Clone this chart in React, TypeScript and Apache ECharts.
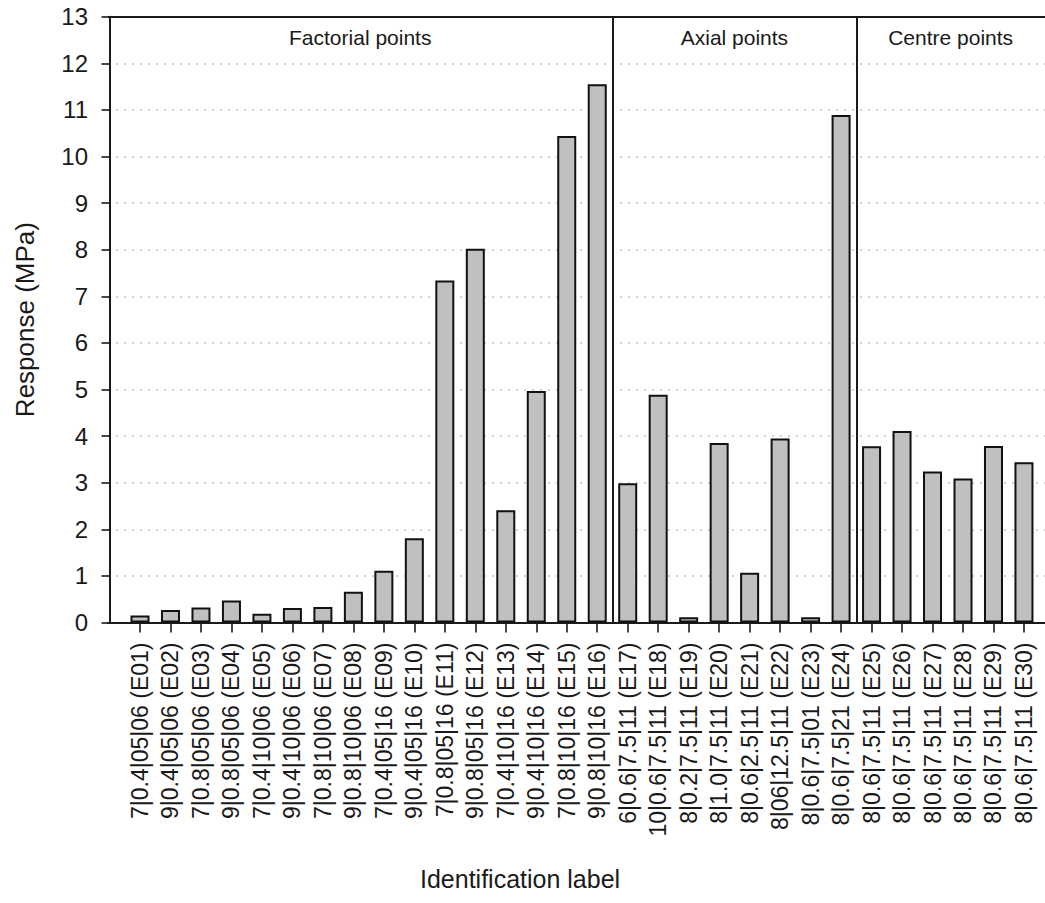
import React, { useEffect, useRef } from "react";
import * as echarts from "echarts";

const labels: string[] = [
  "7|0.4|05|06 (E01)", "9|0.4|05|06 (E02)", "7|0.8|05|06 (E03)", "9|0.8|05|06 (E04)",
  "7|0.4|10|06 (E05)", "9|0.4|10|06 (E06)", "7|0.8|10|06 (E07)", "9|0.8|10|06 (E08)",
  "7|0.4|05|16 (E09)", "9|0.4|05|16 (E10)", "7|0.8|05|16 (E11)", "9|0.8|05|16 (E12)",
  "7|0.4|10|16 (E13)", "9|0.4|10|16 (E14)", "7|0.8|10|16 (E15)", "9|0.8|10|16 (E16)",
  "6|0.6|7.5|11 (E17)", "10|0.6|7.5|11 (E18)", "8|0.2|7.5|11 (E19)", "8|1.0|7.5|11 (E20)",
  "8|0.6|2.5|11 (E21)", "8|06|12.5|11 (E22)", "8|0.6|7.5|01 (E23)", "8|0.6|7.5|21 (E24)",
  "8|0.6|7.5|11 (E25)", "8|0.6|7.5|11 (E26)", "8|0.6|7.5|11 (E27)", "8|0.6|7.5|11 (E28)",
  "8|0.6|7.5|11 (E29)", "8|0.6|7.5|11 (E30)",
];

const responses: number[] = [
  0.15, 0.27, 0.32, 0.47, 0.19, 0.31, 0.33, 0.66, 1.11, 1.81,
  7.34, 8.02, 2.41, 4.97, 10.44, 11.55,
  2.99, 4.89, 0.11, 3.85, 1.07, 3.95, 0.11, 10.89,
  3.78, 4.11, 3.24, 3.09, 3.79, 3.44,
];

const yTicks: number[] = [0, 1, 2, 3, 4, 5, 6, 7, 8, 9, 10, 11, 12, 13];

const sections: { name: string; from: number; to: number }[] = [
  { name: "Factorial points", from: -0.05, to: 16.5 },
  { name: "Axial points", from: 16.5, to: 24.5 },
  { name: "Centre points", from: 24.5, to: 30.69 },
];

const positions: number[] = labels.map((_, i) => i + 1);

const FONT = "'Liberation Sans', Arial, sans-serif";
const INK = "#1a1a1a";

export default function App() {
  const ref = useRef<HTMLDivElement>(null);

  useEffect(() => {
    document.body.style.margin = "0";
    if (!ref.current) return;
    const chart = echarts.init(ref.current, undefined, { renderer: "svg" });
    const option: any = {
      animation: false,
      backgroundColor: "#ffffff",
      textStyle: { fontFamily: FONT, color: INK },
      grid: { left: 108, right: 0, top: 16.7, bottom: 280.5, containLabel: false },
      xAxis: {
        type: "value",
        min: sections[0].from,
        max: sections[2].to,
        axisLine: { show: true, onZero: false, lineStyle: { color: INK, width: 2 } },
        axisTick: {
          show: true,
          customValues: positions,
          length: 10,
          lineStyle: { color: INK, width: 1.6 },
        },
        axisLabel: {
          customValues: positions,
          rotate: 90,
          margin: 20,
          fontSize: 23,
          fontFamily: FONT,
          color: INK,
          formatter: (v: number) => labels[Math.round(v) - 1] ?? "",
        },
        splitLine: { show: false },
      },
      yAxis: {
        type: "value",
        min: 0,
        max: 13,
        interval: 1,
        name: "Response (MPa)",
        nameLocation: "middle",
        nameGap: 70,
        nameTextStyle: { fontSize: 26, fontFamily: FONT, color: INK },
        axisLine: { show: true, lineStyle: { color: INK, width: 2 } },
        axisTick: { show: true, length: 8, lineStyle: { color: INK, width: 1.6 } },
        axisLabel: {
          margin: 20,
          fontSize: 24,
          fontFamily: FONT,
          color: INK,
          formatter: (v: number) => (yTicks.includes(v) ? String(v) : ""),
        },
        splitLine: {
          show: true,
          lineStyle: { color: "#c4c4c4", type: [2, 6], width: 1.5 },
        },
      },
      series: [
        {
          type: "bar",
          data: responses.map((v, i) => [positions[i], v]),
          barWidth: 19,
          itemStyle: { color: "#c0c0c0", borderColor: "#111111", borderWidth: 2 },
          markLine: {
            silent: true,
            symbol: "none",
            label: { show: false },
            lineStyle: { color: INK, width: 2, type: "solid" },
            data: [
              { yAxis: 13 },
              { xAxis: sections[1].from },
              { xAxis: sections[2].from },
            ],
          },
          markArea: {
            silent: true,
            itemStyle: { color: "rgba(0,0,0,0)" },
            label: {
              show: true,
              position: "inside",
              fontSize: 21,
              fontFamily: FONT,
              color: INK,
            },
            data: sections.map((s) => [
              { name: s.name, xAxis: s.from, yAxis: 13 },
              { xAxis: s.to, yAxis: 12.09 },
            ]),
          },
        },
      ],
      graphic: [
        {
          type: "text",
          left: 420,
          top: 866,
          style: {
            text: "Identification label",
            font: `25px ${FONT}`,
            fill: INK,
          },
        },
      ],
    };
    chart.setOption(option);
    return () => chart.dispose();
  }, []);

  return <div ref={ref} style={{ width: 1045, height: 903 }} />;
}
